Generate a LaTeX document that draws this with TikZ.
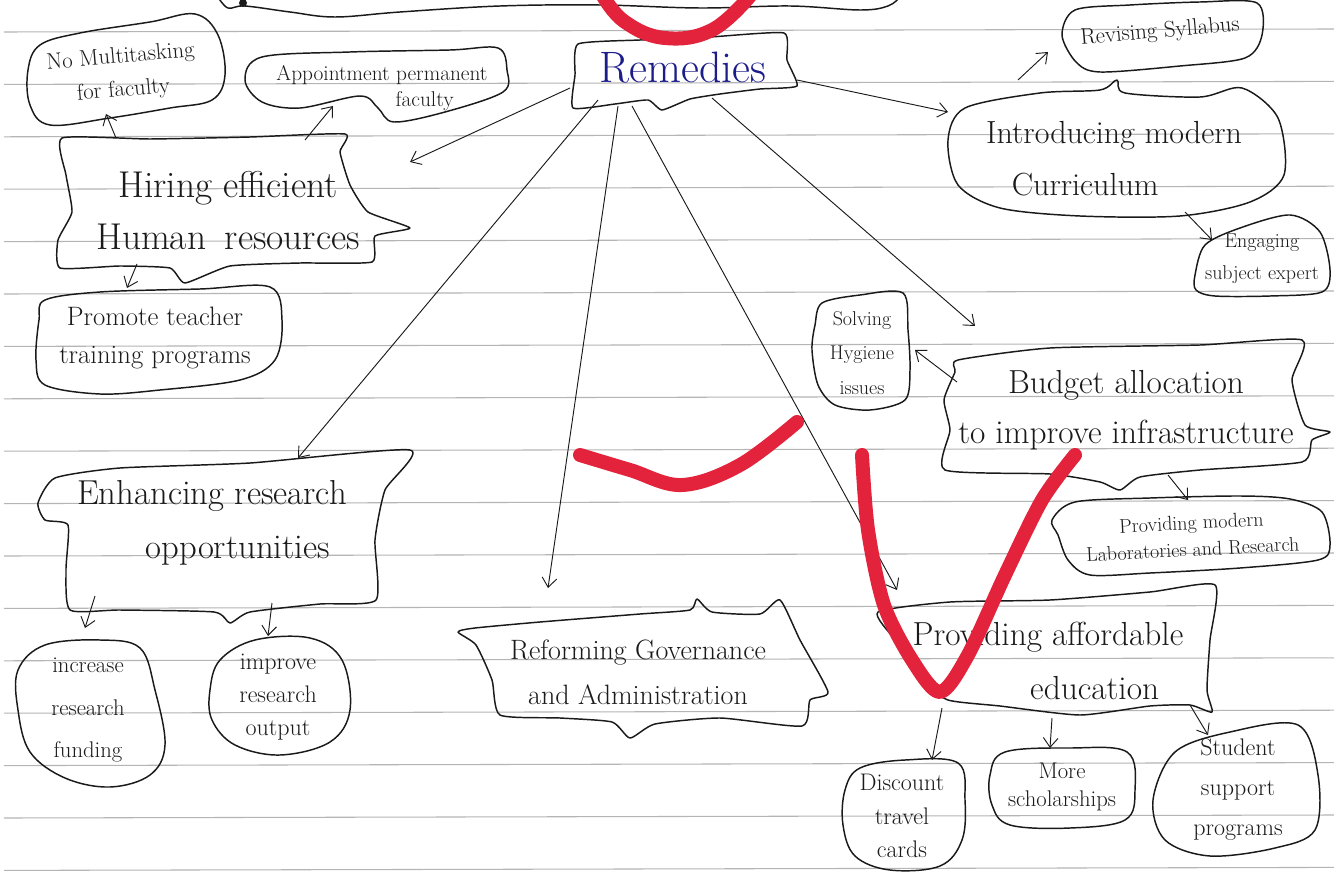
\documentclass[tikz,border=0pt]{standalone}
\usepackage{fontspec}
\usetikzlibrary{arrows.meta,calc}
\definecolor{ink}{HTML}{1A1A1A}
\definecolor{blueink}{HTML}{1C1C8A}
\definecolor{redmark}{HTML}{E3223B}
\definecolor{rulegray}{HTML}{B5B5B5}
\tikzset{
  outline/.style={draw=ink, line width=1.1pt, line join=round},
  conn/.style={draw=ink, line width=0.7pt, -{Straight Barb[length=7pt,width=11pt]}},
  txt/.style={text=ink, align=center, inner sep=0pt},
  redstroke/.style={draw=redmark, line width=10.5pt, line cap=round, line join=round},
  paperline/.style={draw=rulegray, line width=0.8pt}
}
\newcommand{\fsz}[2]{\fontsize{#1}{#2}\selectfont}
\begin{document}
\begin{tikzpicture}[x=0.75pt,y=-0.75pt]
\useasboundingbox (0,0) rectangle (1334,877);
\fill[white] (0,0) rectangle (1334,877);
% ruled paper
\foreach \k in {0,...,16} { \draw[paperline] (4,{32+52.4*\k}) -- (1334,{29+52.4*\k}); }

% ---------- text nodes ----------
\node[txt, text=blueink, font={\fsz{33}{33}}] (rem) at (683,68) {Remedies};
\node[txt, font={\fsz{28}{39}}] (hir) at (228,211) {Hiring efficient\\Human\enspace resources};
\node[txt, rotate=5, font={\fsz{17}{25}}] (nomt) at (122,74) {No Multitasking\\for faculty};
\node[txt, font={\fsz{16}{19}}] (app) at (382,88) {Appointment permanent\\\hspace*{4em}faculty};
\node[txt, font={\fsz{20}{28}}] (pro) at (155,338) {Promote teacher\\training programs};
\node[txt, font={\fsz{26}{40}}] (enh) at (212,523) {Enhancing research\\\hspace*{1.5em}opportunities};
\node[txt, font={\fsz{17}{32}}] (inc) at (88,710) {increase\\research\\funding};
\node[txt, font={\fsz{18}{25}}] (imp) at (278,697) {improve\\research\\output};
\node[txt, font={\fsz{21}{34}}] (ref) at (638,672) {Reforming Governance\\and Administration};
\node[txt, font={\fsz{24}{39}}] (intro) at (1114,159) {Introducing modern\\Curriculum\hspace*{1.8em}};
\node[txt, rotate=5, font={\fsz{17}{18}}] (rev) at (1160,32) {Revising Syllabus};
\node[txt, font={\fsz{15}{24}}] (eng) at (1262,259) {Engaging\\subject expert};
\node[txt, font={\fsz{15}{26}}] (hyg) at (862,353) {Solving\\Hygiene\\issues};
\node[txt, font={\fsz{25}{37.5}}] (bud) at (1126,410) {Budget allocation\\to improve infrastructure};
\node[txt, rotate=3, font={\fsz{15}{20}}] (lab) at (1192,536) {Providing modern\\Laboratories and Research};
\node[txt, font={\fsz{25}{40}}] (aff) at (1048,661) {Providing affordable\\\hspace*{2.8em}education};
\node[txt, font={\fsz{18}{25}}] (dis) at (902,816) {Discount\\travel\\cards};
\node[txt, font={\fsz{17}{21}}] (sch) at (1062,787) {More\\scholarships};
\node[txt, font={\fsz{18}{30}}] (stu) at (1238,790) {Student\\support\\programs};

% ---------- outlines ----------
% partial shape at the top edge
\draw[outline] plot[smooth, tension=0.6] coordinates {(218,-3) (228,8) (245,6) (290,12) (335,17) (400,12) (500,6) (600,5) (700,8) (790,6) (860,10) (888,6) (900,-3)};
\fill[ink] (243,3) circle (4);
\draw[outline] plot[smooth cycle, tension=0.3] coordinates {(578,44) (640,40) (710,37) (784,33) (787,60) (797,86) (760,89) (720,94) (690,99) (662,110) (648,100) (615,104) (573,108) (575,75)};
\draw[outline] plot[smooth cycle, tension=0.3] coordinates {(62,138) (150,139) (250,137) (345,134) (340,152) (350,185) (368,212) (410,228) (375,236) (372,262) (300,263) (230,266) (185,283) (170,268) (120,266) (60,268) (58,240) (72,212) (66,175)};
\draw[outline] plot[smooth cycle, tension=0.6] coordinates {(28,70) (40,45) (80,33) (150,22) (195,14) (218,35) (225,75) (212,100) (170,108) (110,118) (50,125) (30,105)};
\draw[outline] plot[smooth cycle, tension=0.55] coordinates {(245,80) (262,57) (350,52) (450,50) (498,48) (507,70) (503,92) (445,112) (394,122) (378,108) (360,96) (300,108) (262,102)};
\draw[outline] plot[smooth cycle, tension=0.55] coordinates {(39,320) (45,300) (100,292) (200,289) (270,287) (282,320) (275,360) (240,380) (160,390) (100,394) (45,385) (36,360)};
\draw[outline] plot[smooth cycle, tension=0.35] coordinates {(38,503) (55,478) (120,468) (250,463) (410,450) (385,490) (375,540) (376,600) (320,604) (250,612) (230,623) (214,612) (120,610) (70,610) (66,570) (68,525) (45,520)};
\draw[outline] plot[smooth cycle, tension=0.6] coordinates {(18,670) (45,645) (100,640) (140,648) (155,690) (165,745) (150,775) (110,787) (65,778) (30,752) (18,710)};
\draw[outline] plot[smooth cycle, tension=0.6] coordinates {(210,690) (220,660) (255,640) (310,638) (342,660) (350,710) (330,742) (280,755) (235,745) (212,720)};
\draw[outline] plot[smooth cycle, tension=0.35] coordinates {(458,632) (475,628) (540,622) (640,614) (690,610) (697,599) (712,612) (760,614) (780,600) (800,640) (828,692) (810,700) (802,726) (720,718) (655,724) (630,738) (612,722) (560,718) (500,715) (492,680) (476,645)};
\draw[outline] plot[smooth cycle, tension=0.5] coordinates {(948,140) (965,108) (1040,93) (1100,90) (1117,80) (1125,93) (1200,97) (1242,88) (1278,118) (1284,175) (1250,202) (1180,216) (1080,216) (1000,208) (958,185)};
\draw[outline] plot[smooth cycle, tension=0.5] coordinates {(1062,35) (1075,10) (1130,5) (1200,2) (1257,3) (1262,35) (1245,58) (1180,66) (1100,72) (1076,62)};
\draw[outline] plot[smooth cycle, tension=0.5] coordinates {(1195,275) (1205,245) (1240,228) (1290,215) (1320,232) (1330,270) (1322,292) (1270,296) (1215,296) (1196,290)};
\draw[outline] plot[smooth cycle, tension=0.5] coordinates {(815,325) (822,303) (860,295) (903,293) (908,330) (910,370) (905,400) (870,410) (835,405) (818,385) (812,350)};
\draw[outline] plot[smooth cycle, tension=0.35] coordinates {(958,360) (1050,348) (1200,345) (1302,340) (1292,380) (1305,425) (1330,432) (1312,440) (1302,462) (1200,470) (1140,477) (1120,490) (1100,482) (1050,474) (945,470) (950,430) (944,400) (955,372)};
\draw[outline] plot[smooth cycle, tension=0.5] coordinates {(1052,520) (1075,502) (1150,498) (1240,496) (1290,499) (1322,512) (1330,545) (1318,560) (1240,568) (1150,573) (1090,575) (1068,560) (1058,535)};
\draw[outline] plot[smooth cycle, tension=0.35] coordinates {(878,612) (950,602) (1050,600) (1150,592) (1215,585) (1210,640) (1207,690) (1212,712) (1190,705) (1150,706) (1080,715) (1000,706) (948,700) (922,680) (895,640)};
\draw[outline] plot[smooth cycle, tension=0.6] coordinates {(845,790) (860,768) (905,760) (958,763) (965,800) (962,840) (940,866) (890,870) (855,856) (843,825)};
\draw[outline] plot[smooth cycle, tension=0.6] coordinates {(990,775) (1005,752) (1070,748) (1127,752) (1135,790) (1125,820) (1070,828) (1010,825) (992,805)};
\draw[outline] plot[smooth cycle, tension=0.55] coordinates {(1153,800) (1175,752) (1230,732) (1298,725) (1318,775) (1315,830) (1275,848) (1210,856) (1165,840)};

% ---------- connectors ----------
\draw[conn] ($(rem)+(-113,20)$) -- ($(hir)+(182,-49)$);
\draw[conn] ($(rem)+(-85,32)$) -- ($(enh)+(86,-65)$);
\draw[conn] ($(rem)+(-65,38)$) -- ($(ref)+(-90,-84)$);
\draw[conn] ($(rem)+(-51,38)$) -- ($(aff)+(-151,-71)$);
\draw[conn] ($(rem)+(29,30)$) -- ($(bud)+(-151,-84)$);
\draw[conn] ($(rem)+(114,12)$) -- ($(intro)+(-166,-47)$);
\draw[conn] ($(intro)+(-96,-79)$) -- ($(rev)+(-112,20)$);
\draw[conn] ($(intro)+(71,53)$) -- ($(eng)+(-50,-19)$);
\draw[conn] ($(hir)+(-112,-73)$) -- ($(nomt)+(-16,40)$);
\draw[conn] ($(hir)+(77,-71)$) -- ($(app)+(-49,18)$);
\draw[conn] ($(hir)+(-91,53)$) -- ($(pro)+(-28,-50)$);
\draw[conn] ($(enh)+(-117,73)$) -- ($(inc)+(-3,-82)$);
\draw[conn] ($(enh)+(60,80)$) -- ($(imp)+(-10,-61)$);
\draw[conn] ($(bud)+(-169,-28)$) -- ($(hyg)+(53,-3)$);
\draw[conn] ($(bud)+(42,65)$) -- ($(lab)+(-4,-36)$);
\draw[conn] ($(aff)+(-106,47)$) -- ($(dis)+(30,-56)$);
\draw[conn] ($(aff)+(4,57)$) -- ($(sch)+(-12,-39)$);
\draw[conn] ($(aff)+(142,44)$) -- ($(stu)+(-30,-55)$);

% ---------- red marks on top ----------
\draw[redstroke] plot[smooth, tension=0.7] coordinates {(603,-4) (625,22) (665,38) (712,30) (750,-4)};
\draw[redstroke] plot[smooth, tension=0.6] coordinates {(580,455) (630,470) (682,485) (740,465) (797,422)};
\draw[redstroke] plot[smooth, tension=0.5] coordinates {(862,455) (868,530) (884,605) (912,660) (940,692) (968,655) (1005,575) (1042,500) (1075,455)};
\end{tikzpicture}
\end{document}
